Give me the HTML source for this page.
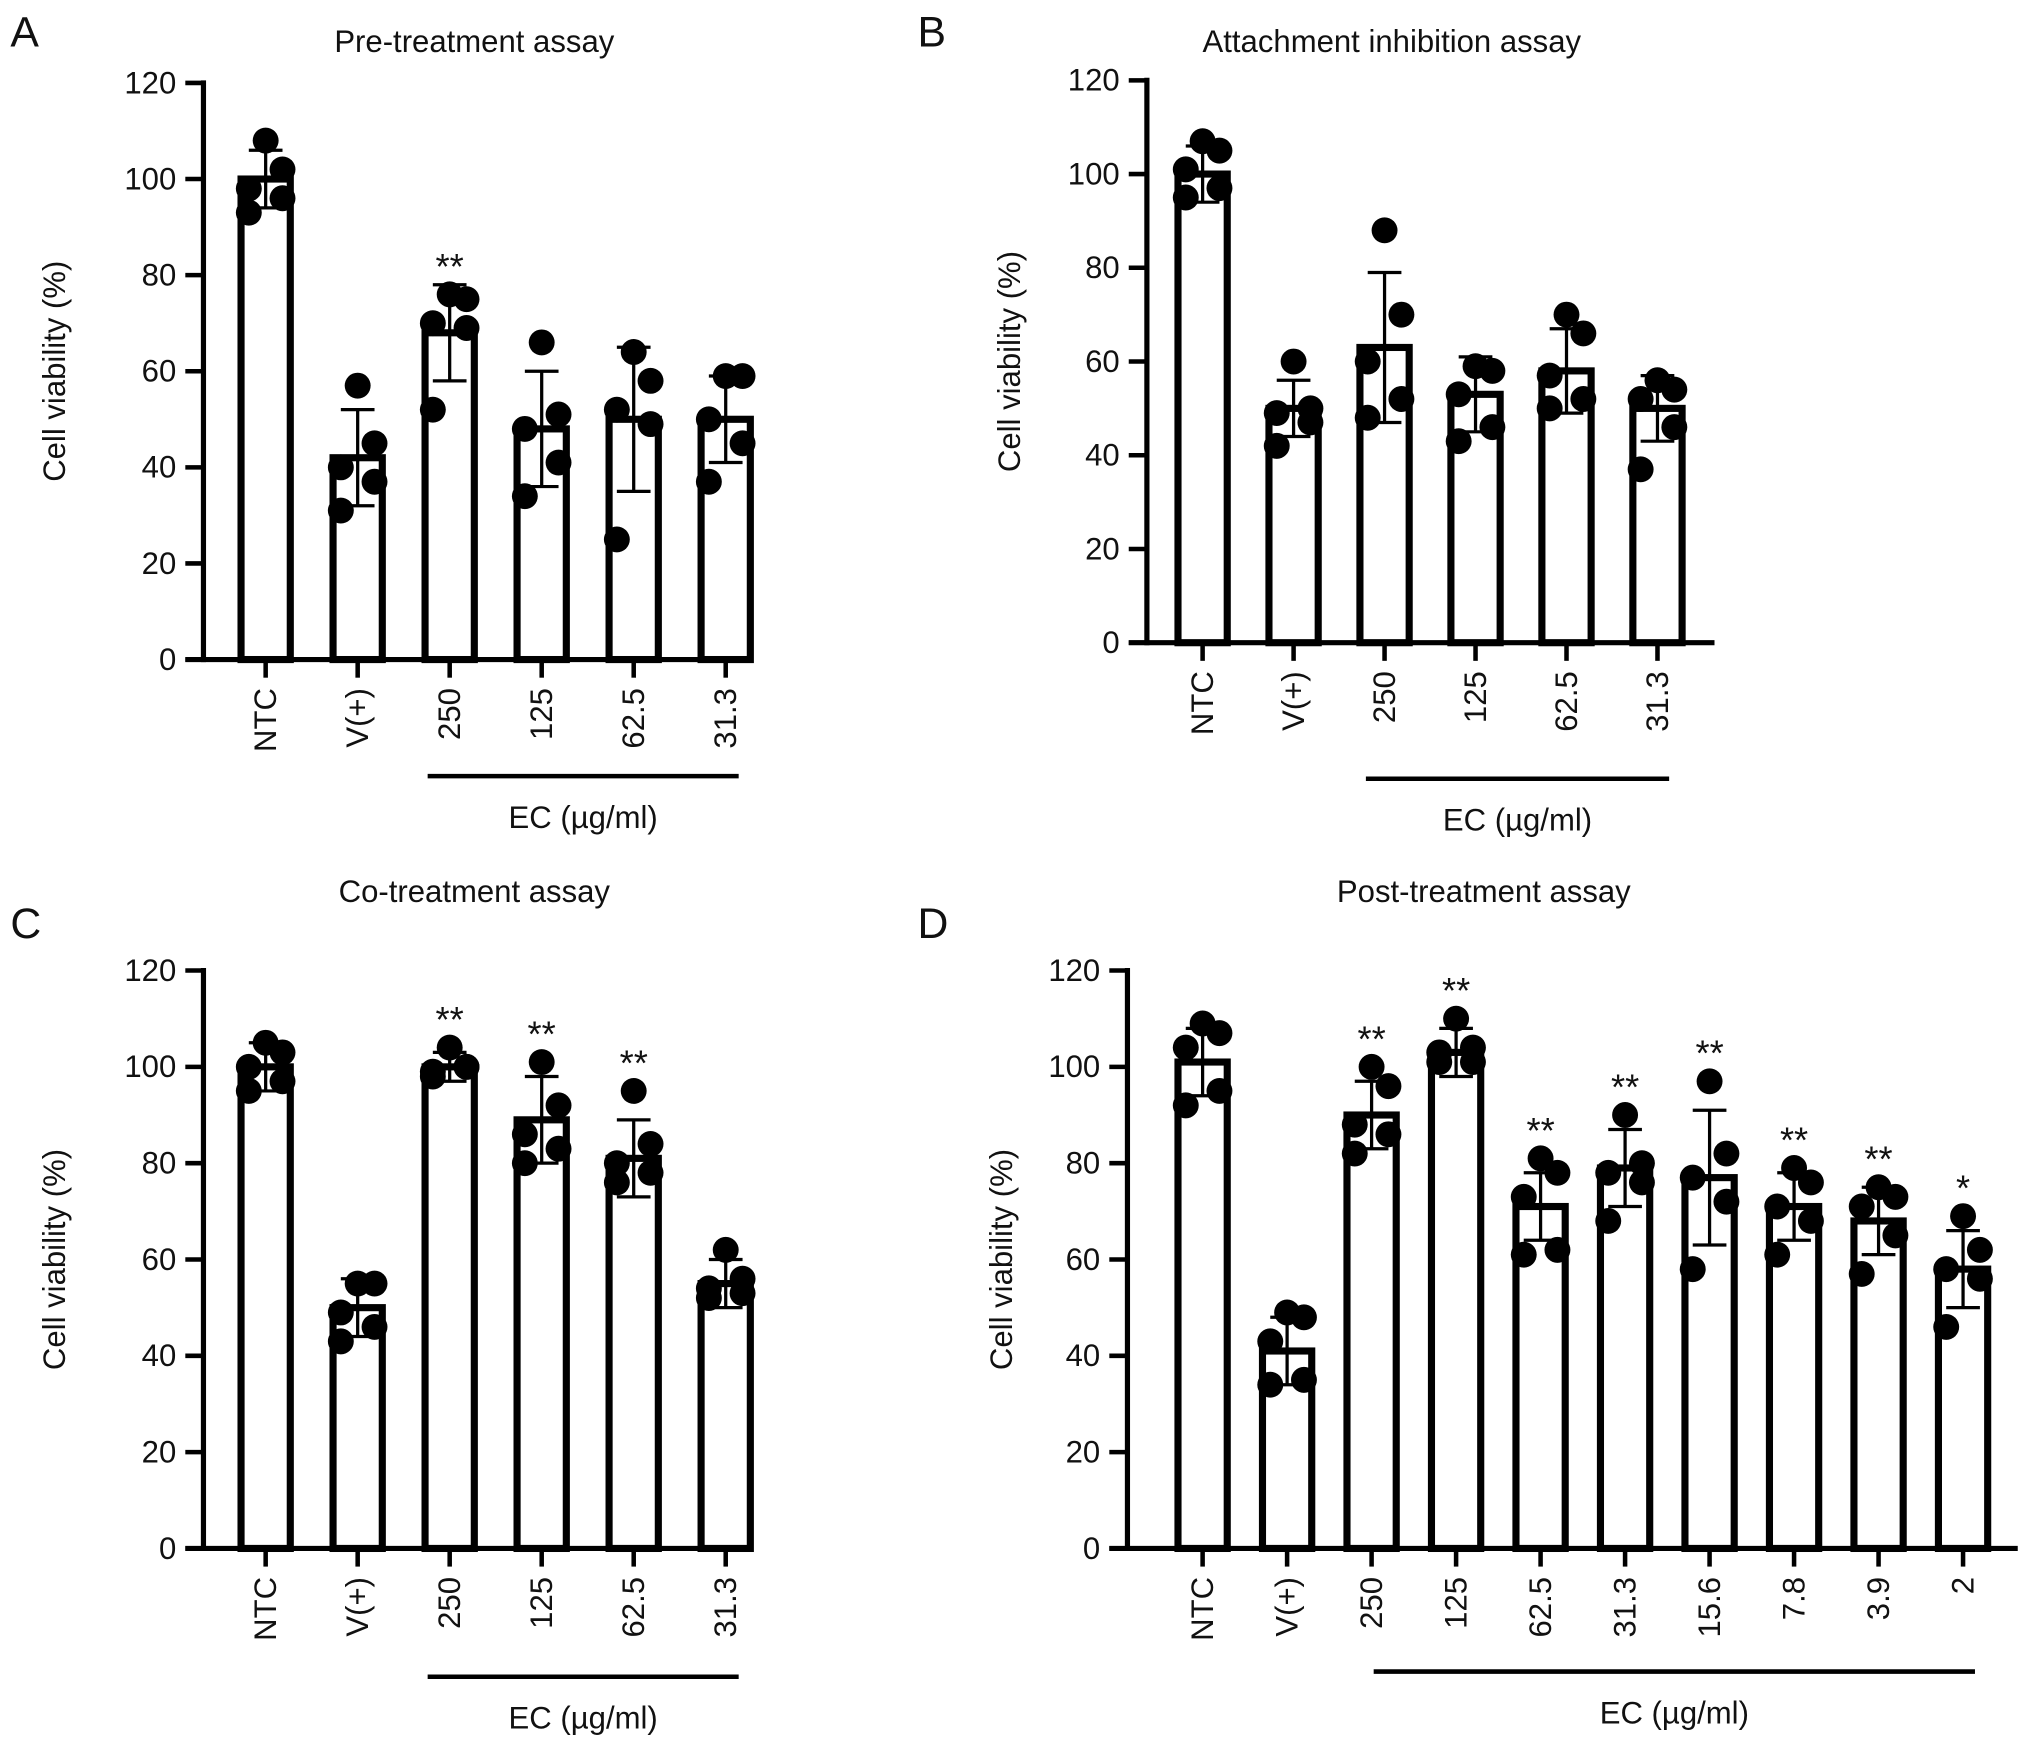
<!DOCTYPE html>
<html><head><meta charset="utf-8">
<style>
html,body{margin:0;padding:0;background:#fff;}
svg{display:block;}
text{font-family:"Liberation Sans",Arial,sans-serif;fill:#111;}
</style></head>
<body>
<svg id="fig" width="2032" height="1748" viewBox="0 0 1568 1349" preserveAspectRatio="none" xmlns="http://www.w3.org/2000/svg"></svg>
<script>
// ---- data ----
const catsA = ["NTC","V(+)","250","125","62.5","31.3"];
const meansA = [100,42,68,48,50,50];
const sdA = [6,10,10,12,15,9];
const ptsA = [[108,102,98,96,93],[57,45,40,37,31],[76,75,70,69,52],[66,51,48,41,34],[64,58,52,49,25],[59,59,50,45,37]];
const starsA = ["","","**","","",""];

const catsB = ["NTC","V(+)","250","125","62.5","31.3"];
const meansB = [100,50,63,53,58,50];
const sdB = [6,6,16,8,9,7];
const ptsB = [[107,105,101,97,95],[60,50,49,47,42],[88,70,60,52,48],[59,58,53,46,43],[70,66,57,52,50],[56,54,52,46,37]];
const starsB = ["","","","","",""];

const catsC = ["NTC","V(+)","250","125","62.5","31.3"];
const meansC = [100,50,100,89,81,55];
const sdC = [5,6,3,9,8,5];
const ptsC = [[105,103,100,97,95],[55,55,49,46,43],[104,100,99,100,98],[101,92,86,83,80],[95,84,80,78,76],[62,56,54,53,52]];
const starsC = ["","","**","**","**",""];

const catsD = ["NTC","V(+)","250","125","62.5","31.3","15.6","7.8","3.9","2"];
const meansD = [101,41,90,103,71,79,77,71,68,58];
const sdD = [7,7,7,5,7,8,14,7,7,8];
const ptsD = [[109,107,104,95,92],[49,48,43,35,34],[100,96,88,86,82],[110,104,103,101,101],[81,78,73,62,61],[90,80,78,76,68],[97,82,77,72,58],[79,76,71,68,61],[75,73,71,65,57],[69,62,58,56,46]];
const starsD = ["","","**","**","**","**","**","**","**","*"];

const yTicks = [0,20,40,60,80,100,120];

const NS="http://www.w3.org/2000/svg";
const svg=document.getElementById('fig');
function mk(tag,attrs,parent){const e=document.createElementNS(NS,tag);for(const k in attrs)e.setAttribute(k,attrs[k]);(parent||svg).appendChild(e);return e;}

const FS=24;
function panel(cfg,cats,means,sds,pts,stars){
  const g=mk('g',{});
  
  
  const y=v=>cfg.y0-(v/120)*(cfg.y0-cfg.y120);
  const x=i=>cfg.x0+i*cfg.step;
  let t=mk('text',{x:cfg.lx,y:cfg.ly,'font-size':33},g);t.textContent=cfg.letter;
  
  
  t=mk('text',{x:cfg.tx,y:cfg.ty,'font-size':FS,'text-anchor':'middle'},g);t.textContent=cfg.title;
  
  
  t=mk('text',{x:0,y:0,'font-size':FS,'text-anchor':'middle'},g);
  t.setAttribute('transform','translate('+cfg.yx+','+((cfg.y0+cfg.y120)/2)+') rotate(-90)');
  t.textContent='Cell viability (%)';
  
  
  let l=mk('line',{x1:cfg.ax,y1:cfg.y120-2,x2:cfg.ax,y2:cfg.y0+2,stroke:'#000','stroke-width':4},g);
  
  
  l=mk('line',{x1:cfg.ax-14,y1:cfg.y0,x2:cfg.xend,y2:cfg.y0,stroke:'#000','stroke-width':4},g);
  
  
  yTicks.forEach(v=>{
    const tk=mk('line',{x1:cfg.ax-14,y1:y(v),x2:cfg.ax,y2:y(v),stroke:'#000','stroke-width':3.5},g);
    
    
    const tl=mk('text',{x:cfg.ax-21,y:y(v)+8,'font-size':FS,'text-anchor':'end'},g);tl.textContent=v;
    
    
  });
  const bw=38, r=10, offs=[0,13,-13,13,-13];
  cats.forEach((c,i)=>{
    const cx=x(i);
    const bar=mk('rect',{x:cx-bw/2,y:y(means[i]),width:bw,height:cfg.y0-y(means[i]),fill:'#fff',stroke:'#000','stroke-width':5.5},g);
    
    
    const hi=means[i]+sds[i], lo=means[i]-sds[i];
    const eb=mk('path',{d:'M'+cx+','+y(lo)+'V'+y(hi)+'M'+(cx-13)+','+y(hi)+'H'+(cx+13)+'M'+(cx-13)+','+y(lo)+'H'+(cx+13),stroke:'#000','stroke-width':2.5,fill:'none'},g);
    
    
    pts[i].forEach((p,j)=>{
      const d=mk('circle',{cx:cx+offs[j%5],cy:y(p),r:r,fill:'#000'},g);
      
      
    });
    const tk=mk('line',{x1:cx,y1:cfg.y0,x2:cx,y2:cfg.y0+14,stroke:'#000','stroke-width':3.5},g);
    
    
    const tl=mk('text',{x:0,y:0,'font-size':FS,'text-anchor':'end'},g);
    tl.setAttribute('transform','translate('+(cx+8)+','+(cfg.y0+22)+') rotate(-90)');
    tl.textContent=c;
    
    
    if(stars[i]){
      const top=Math.min(y(hi),y(Math.max(...pts[i]))-r);
      const st=mk('text',{x:cx,y:top-2,'font-size':28,'text-anchor':'middle'},g);st.textContent=stars[i];
      
      
    }
  });
  l=mk('line',{x1:cfg.ecx1,y1:cfg.ecy,x2:cfg.ecx2,y2:cfg.ecy,stroke:'#000','stroke-width':3.5},g);
  
  
  t=mk('text',{x:(cfg.ecx1+cfg.ecx2)/2,y:cfg.ecy+40,'font-size':FS,'text-anchor':'middle'},g);t.textContent='EC (\u00b5g/ml)';
  
  
}

panel({letter:'A',lx:8,ly:36,title:'Pre-treatment assay',tx:366,ty:40,yx:50,ax:157,y0:509,y120:64,xend:581,x0:205,step:71,ecx1:330,ecx2:570,ecy:599},catsA,meansA,sdA,ptsA,starsA);
panel({letter:'B',lx:708,ly:36,title:'Attachment inhibition assay',tx:1074,ty:40,yx:787,ax:885,y0:496,y120:62,xend:1323,x0:928,step:70.2,ecx1:1054,ecx2:1288,ecy:601},catsB,meansB,sdB,ptsB,starsB);
panel({letter:'C',lx:8,ly:724,title:'Co-treatment assay',tx:366,ty:696,yx:50,ax:157,y0:1195,y120:749,xend:581,x0:205,step:71,ecx1:330,ecx2:570,ecy:1294},catsC,meansC,sdC,ptsC,starsC);
panel({letter:'D',lx:708,ly:724,title:'Post-treatment assay',tx:1145,ty:696,yx:781,ax:870,y0:1195,y120:749,xend:1557,x0:928,step:65.2,ecx1:1060,ecx2:1524,ecy:1290},catsD,meansD,sdD,ptsD,starsD);
</script>
</body></html>
